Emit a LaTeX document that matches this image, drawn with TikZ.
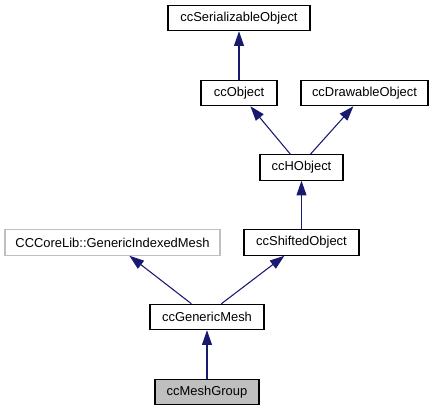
\documentclass[tikz,border=0pt]{standalone}
\usepackage{fontspec}
\setmainfont{Liberation Sans}
\usetikzlibrary{arrows.meta,calc}
\definecolor{edgecol}{HTML}{191970}
\definecolor{greyfill}{HTML}{BFBFBF}
\begin{document}
\begin{tikzpicture}[x=0.75pt,y=-0.75pt,
  cls/.style={draw=black,line width=0.9pt,fill=white,inner sep=0pt,minimum height=19pt,font=\fontsize{9.7}{11}\selectfont,text=black},
  ext/.style={cls,draw=greyfill},
  cur/.style={cls,fill=greyfill},
  inh/.style={draw=edgecol,line width=0.8pt,-{Triangle[length=11pt,width=7.5pt]}}]
\useasboundingbox (0,0) rectangle (433,411);
\node[cls,minimum width=106.5pt] (ser) at (239,18) {ccSerializableObject};
\node[cls,minimum width=57pt] (obj) at (239,93) {ccObject};
\node[cls,minimum width=95.25pt] (drw) at (364.5,93) {ccDrawableObject};
\node[cls,minimum width=62.25pt] (hobj) at (301.5,167.5) {ccHObject};
\node[ext,minimum width=161.25pt] (gim) at (112.5,242.5) {CCCoreLib::GenericIndexedMesh};
\node[cls,minimum width=86.25pt] (shf) at (301.5,242.5) {ccShiftedObject};
\node[cls,minimum width=85.5pt] (gm) at (207,317) {ccGenericMesh};
\node[cur,minimum width=78pt] (mg) at (207,392) {ccMeshGroup};
\draw[inh] (obj.north) -- (ser.south);
\draw[inh] ($(hobj.north west)+(31,0)$) -- ($(obj.south west)+(50,0)$);
\draw[inh] ($(hobj.north west)+(51,0)$) -- ($(drw.south west)+(53,0)$);
\draw[inh] (shf.north) -- (hobj.south);
\draw[inh] ($(gm.north west)+(42,0)$) -- ($(gim.south west)+(125,0)$);
\draw[inh] ($(gm.north west)+(72,0)$) -- ($(shf.south west)+(41,0)$);
\draw[inh] (mg.north) -- (gm.south);
\end{tikzpicture}
\end{document}
